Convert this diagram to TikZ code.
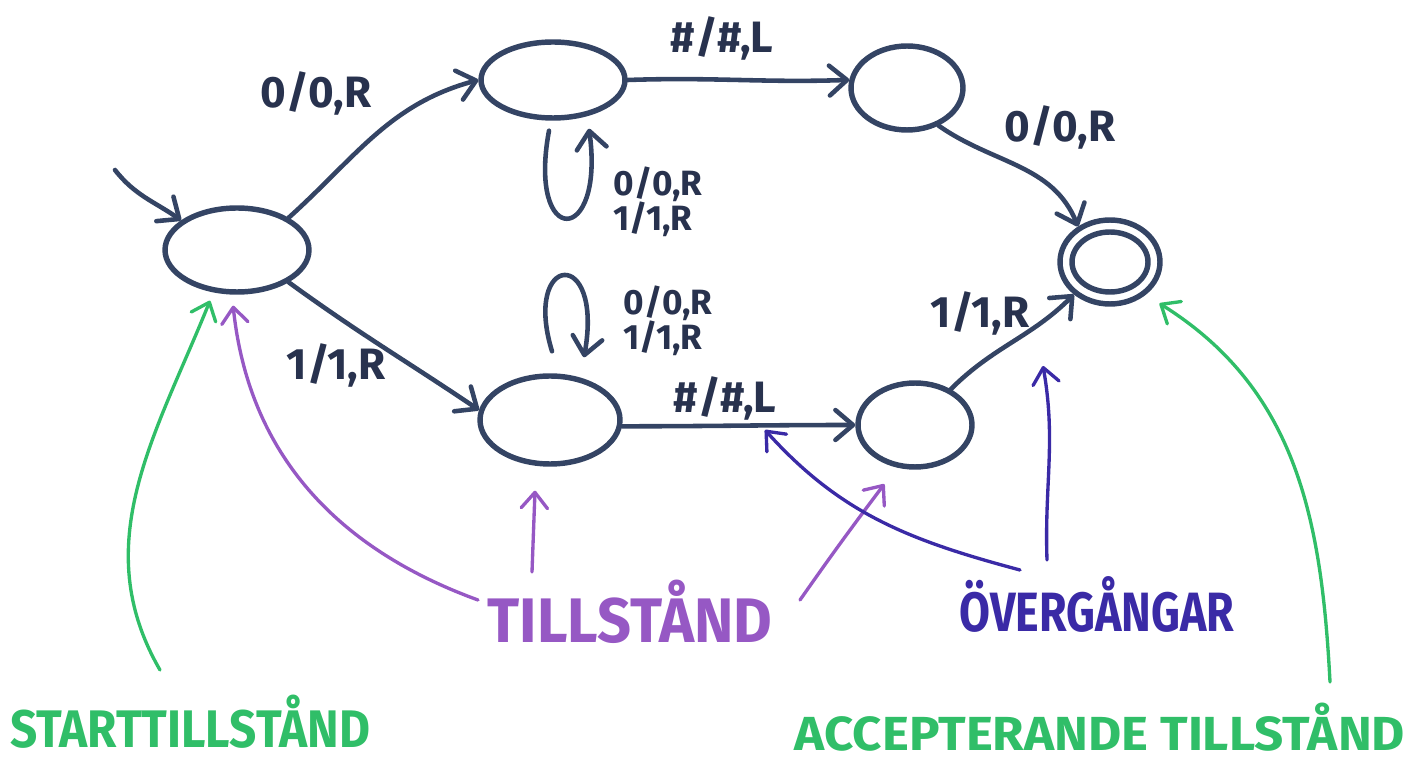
\documentclass[tikz,border=0pt]{standalone}
\usepackage{graphicx}
\usepackage{fontspec}
\setmainfont{Fira Sans}
\usetikzlibrary{shapes.geometric,arrows.meta}
\definecolor{ink}{RGB}{52,68,100}
\definecolor{inktext}{RGB}{40,50,78}
\definecolor{lilac}{RGB}{150,88,196}
\definecolor{indigo}{RGB}{58,42,166}
\definecolor{mint}{RGB}{48,190,104}
\tikzset{
  state/.style={ellipse, draw=ink, line width=3.1pt, inner sep=0pt},
  edge/.style={draw=ink, line width=2.6pt, line cap=round,
    -{Straight Barb[length=10pt,width=17pt,line width=2.6pt,round]}},
  note/.style={line width=1.9pt, line cap=round,
    -{Straight Barb[length=9pt,width=15pt,line width=1.9pt,round]}},
  elabel/.style={text=inktext, font=\fontsize{25}{25}\selectfont\bfseries},
  llabel/.style={text=inktext, align=left, font=\fontsize{20}{20}\selectfont\bfseries},
  caption/.style={inner sep=0pt, font=\bfseries}
}
\begin{document}
\begin{tikzpicture}[x=0.02cm,y=0.02cm]
\useasboundingbox (0,0) rectangle (1420,-766);

% states
\node[state, minimum width=2.88cm, minimum height=1.68cm] (s)  at (237,-250) {};
\node[state, minimum width=2.88cm, minimum height=1.52cm] (q1) at (553,-80) {};
\node[state, minimum width=2.24cm, minimum height=1.68cm] (q2) at (907,-88) {};
\node[state, minimum width=2.80cm, minimum height=1.76cm] (q3) at (550,-420) {};
\node[state, minimum width=2.28cm, minimum height=1.68cm] (q4) at (915,-425) {};
\node[state, minimum width=2.00cm, minimum height=1.68cm] (acc) at (1110,-262) {};
\node[state, minimum width=1.52cm, minimum height=1.20cm] (acci) at (1110,-262) {};

% initial arrow
\coordinate (init) at (115,-170);
\draw[edge] (init) to[out=-52,in=145] (s.152);

% transitions
\draw[edge] (s.32) to[out=42,in=195] (q1.west);
\node[elabel] (l1) at (316,-93) {0/0,R};
\draw[edge] (s.-32) to[out=-36,in=146] (q3.172);
\node[elabel] (l2) at (336,-365) {1/1,R};
\draw[edge] (q1.east) to[out=2,in=182] (q2.172);
\node[elabel] (l3) at (722,-38) {\#/\#,L};
\draw[edge] ([shift={(-4,-10)}]q1.south) .. controls +(-22,-118) and +(16,-118) .. ([shift={(36,-8)}]q1.south);
\node[llabel] (l4) at (658,-202) {0/0,R\\1/1,R};
\draw[edge] ([shift={(2,22)}]q3.north) .. controls +(-30,98) and +(20,112) .. ([shift={(34,16)}]q3.north);
\node[llabel] (l5) at (668,-321) {0/0,R\\1/1,R};
\draw[edge] (q3.-5) to[out=0,in=180] (q4.west);
\node[elabel] (l6) at (725,-398) {\#/\#,L};
\draw[edge] (q2.-50) to[out=-35,in=112] (acc.132);
\node[elabel] (l7) at (1060,-127) {0/0,R};
\draw[edge] (q4.45) to[out=45,in=-135] (acc.-138);
\node[elabel] (l8) at (980,-313) {1/1,R};

% captions
\node[caption, text=mint] (cstart) at (190,-722)
  {\resizebox{7.2cm}{1.05cm}{STARTTILLSTÅND}};
\node[caption, text=lilac] (cstate) at (630,-612)
  {\resizebox{5.7cm}{1.25cm}{TILLSTÅND}};
\node[caption, text=indigo] (ctrans) at (1097,-604)
  {\resizebox{5.5cm}{1.1cm}{ÖVERGÅNGAR}};
\node[caption, text=mint] (cacc) at (1100,-727)
  {\resizebox{12.2cm}{0.95cm}{ACCEPTERANDE TILLSTÅND}};

% pointers from the captions
\coordinate (ts1) at (160,-670);
\draw[note, mint] (ts1) to[out=120,in=-112] ([shift={(-27,-6)}]s.south);
\coordinate (tp1) at (478,-600);
\draw[note, lilac] (tp1) to[out=160,in=-84] ([shift={(12,-12)}]s.-110);
\coordinate (tp2) at (532,-572);
\draw[note, lilac] (tp2) -- ([shift={(-15,-24)}]q3.south);
\coordinate (tp3) at (800,-600);
\draw[note, lilac] (tp3) to[out=55,in=-127] ([shift={(-15,-16)}]q4.-110);
\coordinate (tt1) at (1020,-570);
\draw[note, indigo] (tt1) to[out=165,in=-48] (765,-430);
\coordinate (tt2) at (1047,-560);
\draw[note, indigo] (tt2) to[out=92,in=-80] (1043,-366);
\coordinate (ta1) at (1330,-682);
\draw[note, mint] (ta1) to[out=93,in=-32] ([shift={(12,-10)}]acc.-40);
\end{tikzpicture}
\end{document}
